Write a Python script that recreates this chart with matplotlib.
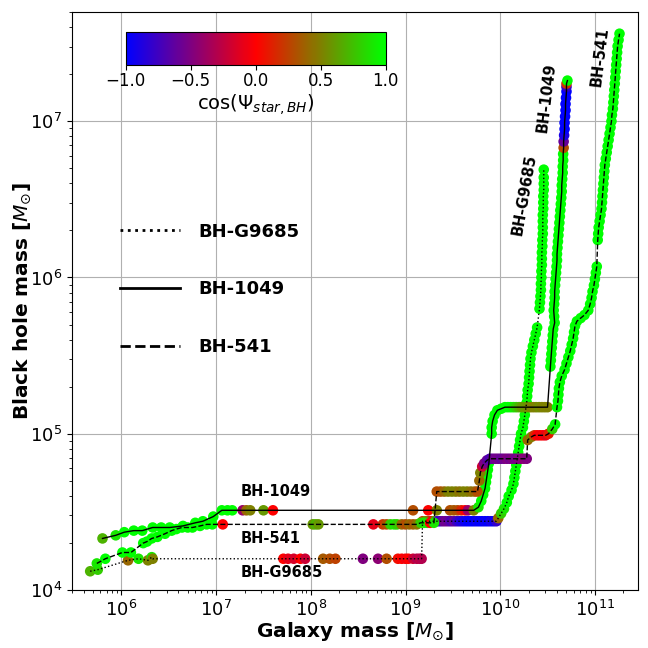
import numpy as np
import matplotlib
matplotlib.use('Agg')
import matplotlib.pyplot as plt
from matplotlib.colors import LinearSegmentedColormap
from matplotlib.lines import Line2D

# each row: (log10 galaxy mass, log10 BH mass, cos(psi_star,BH))
bh_g9685 = [
    (5.67, 4.12, 0.7), (5.75, 4.13, 0.8), (6.07, 4.19, 0.4), (6.18, 4.20, 0.9),
    (6.28, 4.19, 0.5), (6.32, 4.21, 0.9), (6.33, 4.20, 0.5),
    (7.71, 4.20, 0.0), (7.76, 4.20, -0.1), (7.82, 4.20, -0.15), (7.89, 4.20, 0.0),
    (7.94, 4.20, -0.2), (8.13, 4.20, 0.35), (8.20, 4.20, 0.3), (8.26, 4.20, 0.25),
    (8.55, 4.20, -0.5), (8.71, 4.20, -0.45), (8.80, 4.20, 0.3), (8.92, 4.20, 0.05),
    (8.96, 4.20, 0.0), (9.00, 4.20, -0.05), (9.03, 4.20, 0.0), (9.08, 4.20, -0.2),
    (9.12, 4.20, -0.3), (9.15, 4.20, -0.25), (9.17, 4.20, -0.3),
    (9.18, 4.44, 0.2), (9.21, 4.44, 0.6), (9.24, 4.44, 0.3), (9.27, 4.44, -0.1),
    (9.30, 4.44, 0.7), (9.33, 4.44, -0.7), (9.36, 4.44, -0.8), (9.39, 4.44, -0.6),
    (9.42, 4.44, -0.55), (9.45, 4.44, -0.6), (9.48, 4.44, -0.7), (9.51, 4.44, -0.6),
    (9.54, 4.44, -0.75), (9.57, 4.44, -0.85), (9.60, 4.44, -0.9), (9.63, 4.44, -0.95),
    (9.66, 4.44, -1.0), (9.69, 4.44, -1.0), (9.72, 4.44, -1.0), (9.75, 4.44, -0.95),
    (9.78, 4.44, -1.0), (9.81, 4.44, -1.0), (9.84, 4.44, -0.95), (9.87, 4.44, -1.0),
    (9.90, 4.44, -0.9), (9.93, 4.44, -0.95), (9.96, 4.44, -0.8), (9.98, 4.46, 0.4),
    (10.01, 4.49, 0.8), (10.04, 4.52, 0.9), (10.07, 4.56, 1.0), (10.09, 4.60, 1.0),
    (10.12, 4.64, 1.0), (10.14, 4.68, 1.0), (10.15, 4.72, 1.0), (10.16, 4.76, 1.0),
    (10.17, 4.80, 1.0), (10.18, 4.84, 1.0), (10.19, 4.88, 1.0), (10.20, 4.92, 1.0),
    (10.21, 4.96, 1.0), (10.22, 5.00, 1.0), (10.24, 5.04, 1.0), (10.25, 5.08, 1.0),
    (10.26, 5.12, 1.0), (10.27, 5.16, 1.0), (10.28, 5.20, 1.0), (10.285, 5.24, 1.0),
    (10.29, 5.28, 1.0), (10.30, 5.32, 1.0), (10.305, 5.36, 1.0), (10.31, 5.40, 1.0),
    (10.315, 5.44, 1.0), (10.32, 5.48, 1.0), (10.33, 5.52, 1.0), (10.345, 5.56, 1.0),
    (10.36, 5.60, 1.0), (10.375, 5.64, 1.0), (10.39, 5.68, 1.0), (10.415, 5.80, 1.0),
    (10.42, 5.84, 1.0), (10.425, 5.88, 1.0), (10.43, 5.92, 1.0), (10.43, 5.96, 1.0),
    (10.435, 6.00, 1.0), (10.435, 6.04, 1.0), (10.44, 6.08, 1.0), (10.44, 6.12, 1.0),
    (10.44, 6.16, 1.0), (10.445, 6.20, 1.0), (10.445, 6.24, 1.0), (10.45, 6.28, 1.0),
    (10.45, 6.32, 1.0), (10.45, 6.36, 1.0), (10.45, 6.40, 1.0), (10.455, 6.44, 1.0),
    (10.455, 6.48, 1.0), (10.455, 6.52, 1.0), (10.46, 6.56, 1.0), (10.46, 6.60, 1.0),
    (10.46, 6.64, 1.0), (10.46, 6.69, 1.0),
]

bh_1049 = [
    (5.80, 4.33, 0.7), (5.94, 4.35, 0.9), (6.03, 4.37, 1.0), (6.13, 4.38, 1.0),
    (6.22, 4.38, 1.0), (6.33, 4.40, 1.0), (6.42, 4.40, 1.0), (6.51, 4.40, 1.0),
    (6.65, 4.41, 1.0), (6.78, 4.43, 1.0), (6.86, 4.44, 1.0), (6.97, 4.47, 1.0),
    (7.06, 4.51, 1.0), (7.12, 4.51, 1.0), (7.17, 4.51, 1.0), (7.28, 4.51, -0.4),
    (7.32, 4.51, 0.4), (7.36, 4.51, 0.5), (7.50, 4.51, 0.6), (7.60, 4.51, 0.0),
    (9.08, 4.51, 0.3), (9.24, 4.51, 0.0), (9.33, 4.51, 0.5), (9.47, 4.51, 0.3),
    (9.51, 4.51, 0.35), (9.55, 4.51, 0.3), (9.59, 4.51, 0.15), (9.63, 4.51, 0.0),
    (9.66, 4.51, -0.4), (9.72, 4.51, 0.5),
    (9.77, 4.53, 0.9), (9.80, 4.57, 1.0), (9.82, 4.61, 1.0), (9.84, 4.65, 1.0),
    (9.85, 4.69, 1.0), (9.86, 4.73, 1.0), (9.87, 4.77, 1.0), (9.88, 4.81, 1.0),
    (9.91, 5.00, 1.0), (9.91, 5.04, 1.0), (9.92, 5.08, 1.0), (9.94, 5.12, 1.0),
    (9.97, 5.15, 1.0), (10.01, 5.16, 1.0),
    (10.05, 5.17, 1.0), (10.08, 5.17, 1.0), (10.11, 5.17, 1.0), (10.14, 5.17, 0.9),
    (10.17, 5.17, 0.8), (10.20, 5.17, 0.7), (10.23, 5.17, 0.6), (10.26, 5.17, 0.6),
    (10.29, 5.17, 0.55), (10.32, 5.17, 0.5), (10.35, 5.17, 0.5), (10.38, 5.17, 0.5),
    (10.41, 5.17, 0.55), (10.44, 5.17, 0.5), (10.47, 5.17, 0.5), (10.50, 5.17, 0.5),
    (10.53, 5.43, 1.0), (10.535, 5.47, 1.0), (10.54, 5.51, 1.0), (10.545, 5.55, 1.0),
    (10.55, 5.59, 1.0), (10.555, 5.63, 1.0), (10.56, 5.67, 1.0), (10.575, 5.71, 1.0),
    (10.57, 5.75, 1.0), (10.565, 5.79, 1.0), (10.57, 5.83, 1.0), (10.575, 5.87, 1.0),
    (10.575, 5.91, 1.0), (10.58, 5.95, 1.0), (10.585, 5.99, 1.0), (10.59, 6.03, 1.0),
    (10.595, 6.07, 1.0), (10.60, 6.11, 1.0), (10.60, 6.15, 1.0), (10.605, 6.19, 1.0),
    (10.61, 6.23, 1.0), (10.615, 6.27, 1.0), (10.62, 6.31, 1.0), (10.625, 6.35, 1.0),
    (10.63, 6.39, 1.0), (10.635, 6.43, 1.0), (10.64, 6.47, 1.0), (10.645, 6.51, 1.0),
    (10.65, 6.55, 1.0), (10.65, 6.59, 1.0), (10.655, 6.63, 1.0), (10.66, 6.67, 1.0),
    (10.66, 6.71, 1.0), (10.665, 6.75, 1.0), (10.665, 6.79, 1.0), (10.67, 6.83, 0.3),
    (10.67, 6.87, -0.6), (10.675, 6.91, -0.9), (10.68, 6.95, -1.0), (10.68, 6.99, -1.0),
    (10.685, 7.03, -1.0), (10.69, 7.07, -1.0), (10.69, 7.11, -1.0), (10.695, 7.15, -1.0),
    (10.70, 7.19, -1.0), (10.70, 7.22, -0.8), (10.70, 7.24, 0.2), (10.71, 7.26, 1.0),
]

bh_541 = [
    (5.74, 4.17, 0.9), (5.83, 4.20, 1.0), (6.01, 4.24, 1.0), (6.10, 4.24, 1.0),
    (6.23, 4.30, 1.0), (6.27, 4.31, 1.0), (6.32, 4.33, 1.0), (6.38, 4.34, 1.0),
    (6.46, 4.36, 1.0), (6.53, 4.38, 1.0), (6.58, 4.39, 1.0), (6.64, 4.40, 1.0),
    (6.70, 4.40, 1.0), (6.75, 4.40, 1.0), (6.83, 4.41, 1.0), (6.90, 4.42, 1.0),
    (6.96, 4.42, 1.0), (7.07, 4.42, 0.0),
    (8.02, 4.42, 0.6), (8.05, 4.42, 0.7), (8.08, 4.42, 0.6), (8.66, 4.42, -0.1),
    (8.76, 4.42, 0.2), (8.80, 4.42, 0.3), (8.84, 4.42, 0.8), (8.88, 4.42, 0.9),
    (8.91, 4.42, 0.8), (8.96, 4.42, 0.4), (9.00, 4.42, 0.3), (9.04, 4.42, 0.4),
    (9.08, 4.42, 0.35), (9.12, 4.42, 0.45), (9.16, 4.43, 0.8), (9.20, 4.43, 0.9),
    (9.23, 4.43, 0.9), (9.26, 4.43, 0.0), (9.30, 4.43, 0.9),
    (9.33, 4.63, 0.3), (9.37, 4.63, 0.3), (9.41, 4.63, 0.4), (9.45, 4.63, 0.5),
    (9.49, 4.63, 0.5), (9.53, 4.63, 0.5), (9.57, 4.63, 0.45), (9.61, 4.63, 0.5),
    (9.65, 4.63, 0.5), (9.69, 4.63, 0.45), (9.73, 4.63, 0.4), (9.76, 4.63, 0.3),
    (9.78, 4.70, 0.4), (9.79, 4.75, 0.5), (9.81, 4.79, -0.2), (9.83, 4.81, -0.5),
    (9.86, 4.83, -0.6),
    (9.89, 4.84, -0.7), (9.92, 4.84, -0.6), (9.95, 4.84, -0.55), (9.98, 4.84, -0.55),
    (10.01, 4.84, -0.6), (10.04, 4.84, -0.55), (10.07, 4.84, -0.5), (10.10, 4.84, -0.55),
    (10.13, 4.84, -0.5), (10.16, 4.84, -0.55), (10.19, 4.84, -0.5), (10.22, 4.84, -0.5),
    (10.25, 4.84, -0.45), (10.28, 4.84, -0.5),
    (10.29, 4.96, 0.4), (10.33, 4.98, 0.5), (10.36, 4.99, 0.2), (10.39, 4.99, 0.0),
    (10.42, 4.99, -0.05), (10.45, 4.99, 0.0), (10.48, 4.99, -0.1), (10.51, 5.00, 0.1),
    (10.55, 5.03, 0.8), (10.58, 5.06, 1.0),
    (10.60, 5.17, 1.0), (10.61, 5.21, 1.0), (10.615, 5.25, 1.0), (10.62, 5.29, 1.0),
    (10.63, 5.33, 1.0), (10.65, 5.37, 1.0), (10.68, 5.41, 1.0), (10.70, 5.45, 1.0),
    (10.72, 5.49, 1.0), (10.74, 5.53, 1.0), (10.755, 5.57, 1.0), (10.77, 5.61, 1.0),
    (10.78, 5.65, 1.0), (10.79, 5.69, 1.0), (10.81, 5.72, 1.0), (10.85, 5.74, 1.0),
    (10.89, 5.76, 1.0), (10.93, 5.79, 1.0), (10.95, 5.83, 1.0), (10.965, 5.87, 1.0),
    (10.975, 5.91, 1.0), (10.99, 5.95, 1.0), (11.00, 5.99, 1.0), (11.01, 6.03, 1.0),
    (11.02, 6.07, 1.0),
    (11.03, 6.24, 1.0), (11.035, 6.28, 1.0), (11.04, 6.32, 1.0), (11.05, 6.36, 1.0),
    (11.06, 6.40, 1.0), (11.07, 6.44, 1.0), (11.075, 6.48, 1.0), (11.08, 6.52, 1.0),
    (11.085, 6.56, 1.0), (11.09, 6.60, 1.0), (11.095, 6.64, 1.0), (11.10, 6.68, 1.0),
    (11.105, 6.72, 1.0), (11.115, 6.76, 1.0), (11.125, 6.80, 1.0), (11.135, 6.84, 1.0),
    (11.145, 6.88, 1.0), (11.155, 6.92, 1.0), (11.165, 6.96, 1.0), (11.175, 7.00, 1.0),
    (11.18, 7.04, 1.0), (11.19, 7.08, 1.0), (11.195, 7.12, 1.0), (11.20, 7.16, 1.0),
    (11.205, 7.20, 1.0), (11.21, 7.24, 1.0), (11.215, 7.28, 1.0), (11.22, 7.32, 1.0),
    (11.225, 7.36, 1.0), (11.23, 7.40, 1.0), (11.235, 7.44, 1.0), (11.24, 7.48, 1.0),
    (11.25, 7.52, 1.0), (11.26, 7.56, 1.0),
]

track_names = ['BH-G9685', 'BH-1049', 'BH-541']
track_styles = [':', '-', '--']

cmap = LinearSegmentedColormap.from_list('bgr', ['blue', 'red', 'lime'])

fig = plt.figure(figsize=(6.48, 6.48), dpi=100)
ax = fig.add_axes([0.111, 0.0895, 0.8735, 0.892])

for track, ls in zip([bh_g9685, bh_1049, bh_541], track_styles):
    lgal, lbh, cpsi = np.array(track).T
    sc = ax.scatter(10**lgal, 10**lbh, c=cpsi, cmap=cmap, vmin=-1, vmax=1,
                    s=58, edgecolors='none', zorder=2)
    ax.plot(10**lgal, 10**lbh, color='k', ls=ls, lw=1, zorder=3)

ax.set_xscale('log')
ax.set_yscale('log')
ax.set_xlim(3.0e5, 2.85e11)
ax.set_ylim(1e4, 5e7)
ax.grid(True, color='#b0b0b0', lw=0.8)
ax.set_axisbelow(True)
ax.tick_params(labelsize=13)
ax.set_xlabel(r'Galaxy mass [$M_{\odot}$]', fontsize=14.5, fontweight='bold',
              labelpad=0)
ax.set_ylabel(r'Black hole mass [$M_{\odot}$]', fontsize=14.5, fontweight='bold',
              labelpad=-2)

# track labels
ax.text(10**7.26, 10**4.63, 'BH-1049', fontsize=10.5, fontweight='bold', va='center')
ax.text(10**7.26, 10**4.33, 'BH-541', fontsize=10.5, fontweight='bold', va='center')
ax.text(10**7.26, 10**4.11, 'BH-G9685', fontsize=10.5, fontweight='bold', va='center')
ax.text(10**10.25, 10**6.53, 'BH-G9685', fontsize=10.5, fontweight='bold',
        rotation=80, ha='center', va='center')
ax.text(10**10.49, 10**7.15, 'BH-1049', fontsize=10.5, fontweight='bold',
        rotation=83, ha='center', va='center')
ax.text(10**11.05, 10**7.41, 'BH-541', fontsize=10.5, fontweight='bold',
        rotation=83, ha='center', va='center')

handles = [Line2D([], [], color='k', ls=ls, lw=2) for ls in track_styles]
ax.legend(handles, track_names, loc='center left', bbox_to_anchor=(0.057, 0.52),
          frameon=False, handlelength=3.3, handletextpad=1.0, labelspacing=2.2,
          prop={'size': 13, 'weight': 'bold'})

cax = fig.add_axes([0.194, 0.900, 0.401, 0.051])
cbar = fig.colorbar(sc, cax=cax, orientation='horizontal')
cbar.set_ticks([-1.0, -0.5, 0.0, 0.5, 1.0])
cbar.ax.tick_params(labelsize=12, pad=2)
cbar.set_label(r'cos($\Psi_{star,BH}$)', fontsize=14, labelpad=1)

fig.savefig('out.png', dpi=100)
